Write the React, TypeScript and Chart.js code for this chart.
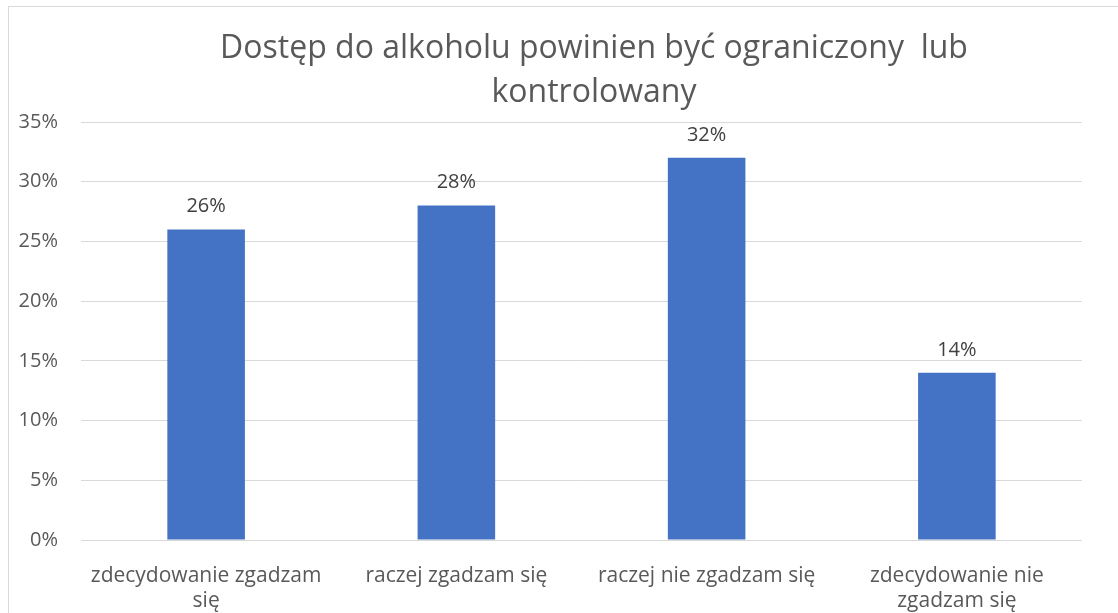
import React, { useEffect, useRef } from "react";
import { Chart, registerables } from "chart.js";

Chart.register(...registerables);

const titleLines = ["Dostęp do alkoholu powinien być ograniczony  lub", "kontrolowany"];
const categories: (string | string[])[] = [
  ["zdecydowanie zgadzam", "się"],
  "raczej zgadzam się",
  "raczej nie zgadzam się",
  ["zdecydowanie nie", "zgadzam się"],
];
const values = [26, 28, 32, 14];
const yTicksMax = 35;
const yStep = 5;

const FONT = "'Open Sans', 'Noto Sans', sans-serif";

const framePlugin = {
  id: "frame",
  beforeDraw(chart: any) {
    const ctx = chart.ctx;
    ctx.save();
    ctx.fillStyle = "#ffffff";
    ctx.fillRect(0, 0, chart.width, chart.height);
    ctx.strokeStyle = "#d9d9d9";
    ctx.lineWidth = 1;
    ctx.strokeRect(8.5, 6.5, 3000, 3000);
    ctx.restore();
  },
};

const titlePlugin = {
  id: "customTitle",
  afterDraw(chart: any) {
    const ctx = chart.ctx;
    ctx.save();
    ctx.fillStyle = "#595959";
    ctx.font = `32px ${FONT}`;
    ctx.textAlign = "center";
    ctx.textBaseline = "middle";
    titleLines.forEach((line, i) => {
      ctx.fillText(line, 594, 49 + i * 44);
    });
    ctx.restore();
  },
};

const labelPlugin = {
  id: "barLabels",
  afterDatasetsDraw(chart: any) {
    const ctx = chart.ctx;
    ctx.save();
    ctx.fillStyle = "#404040";
    ctx.font = `20px ${FONT}`;
    ctx.textAlign = "center";
    ctx.textBaseline = "middle";
    const meta = chart.getDatasetMeta(0);
    meta.data.forEach((el: any, i: number) => {
      ctx.fillText(values[i] + "%", el.x, el.y - 23);
    });
    ctx.restore();
  },
};

export default function App() {
  const ref = useRef<HTMLCanvasElement>(null);
  useEffect(() => {
    if (!ref.current) return;
    const chart = new Chart(ref.current, {
      type: "bar",
      data: {
        labels: categories,
        datasets: [
          {
            data: values,
            backgroundColor: "#4472C4",
            barPercentage: 0.31,
            categoryPercentage: 1,
          },
        ],
      },
      options: {
        animation: false,
        responsive: false,
        layout: { padding: { left: 8, right: 36, top: 122, bottom: 0 } },
        plugins: {
          legend: { display: false },
          title: { display: false },
          tooltip: { enabled: false },
        },
        scales: {
          x: {
            grid: { display: false, drawTicks: false },
            border: { display: false },
            ticks: {
              color: "#595959",
              font: { family: FONT, size: 21, lineHeight: 1.2 },
              padding: 23,
              autoSkip: false,
              maxRotation: 0,
              minRotation: 0,
            },
            afterFit(scale: any) {
              scale.height = 73;
            },
          },
          y: {
            min: 0,
            max: yTicksMax,
            grid: { color: "#d9d9d9", drawTicks: false, lineWidth: 1 },
            border: { display: false },
            ticks: {
              stepSize: yStep,
              color: "#595959",
              font: { family: FONT, size: 20 },
              padding: 23,
              callback: (v: any) => v + "%",
            },
            afterFit(scale: any) {
              scale.width = 73;
            },
          },
        },
      },
      plugins: [framePlugin, titlePlugin, labelPlugin],
    });
    return () => chart.destroy();
  }, []);
  return (
    <div style={{ position: "absolute", left: 0, top: 0, width: 1118, height: 613 }}>
      <canvas ref={ref} width={1118} height={613} />
    </div>
  );
}
